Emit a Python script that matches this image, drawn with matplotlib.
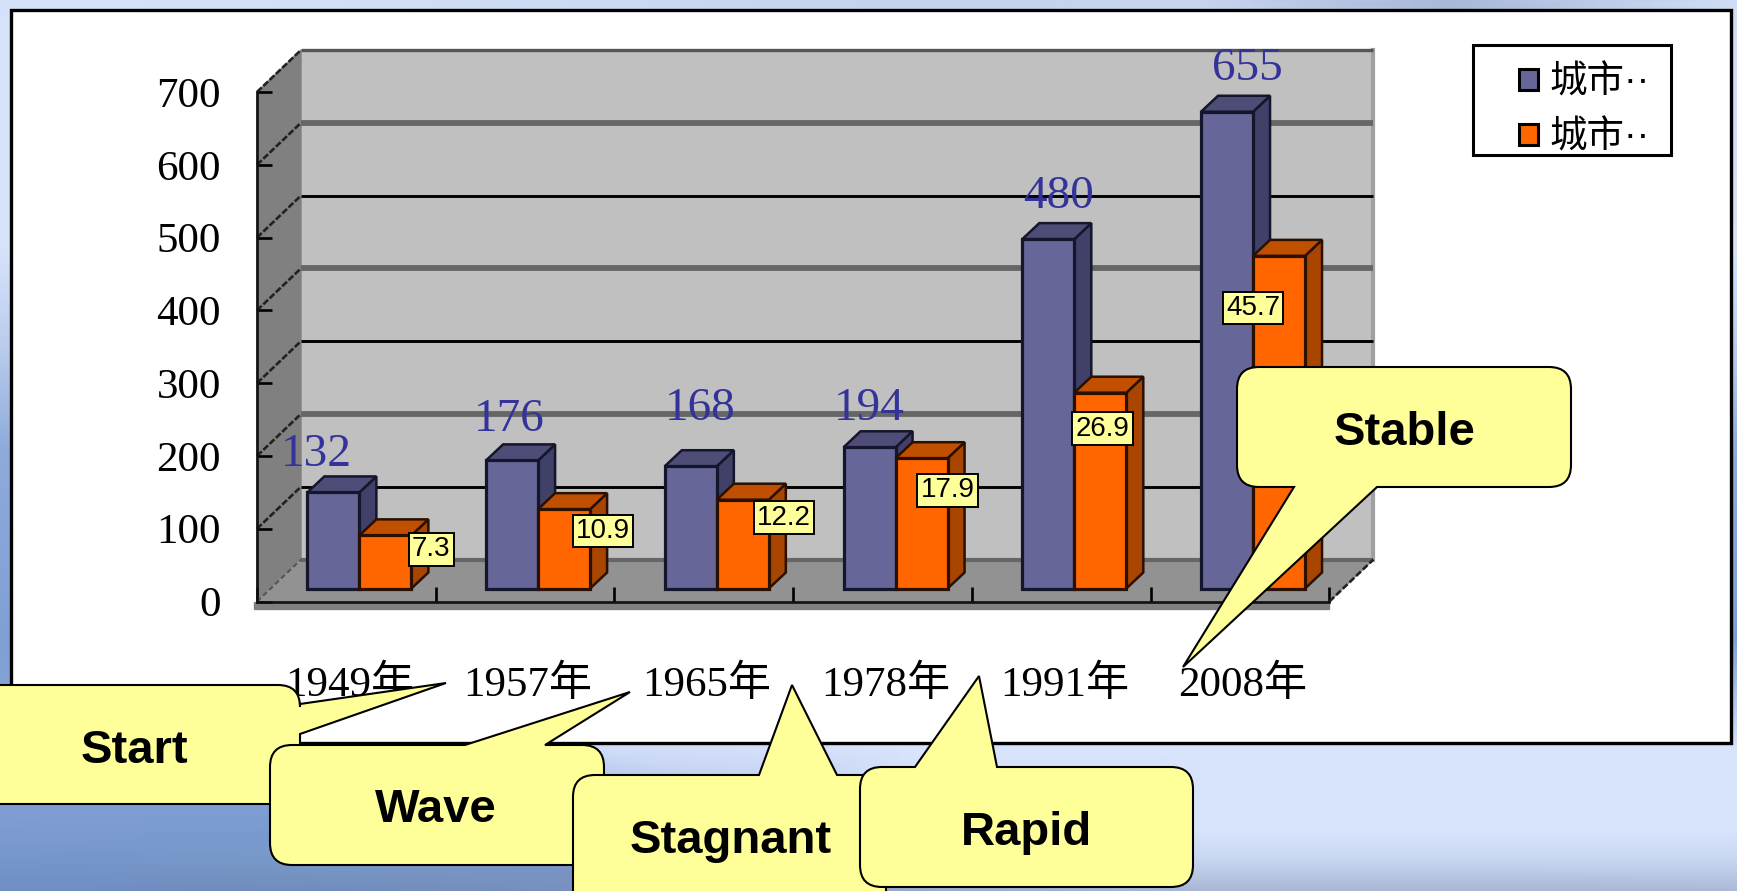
import numpy as np
import matplotlib
matplotlib.use("Agg")
import matplotlib.pyplot as plt
from matplotlib.colors import to_rgb
from matplotlib.patches import PathPatch, Patch
from matplotlib.path import Path

W, H = 1737, 891

# chart data
years = ["1949年", "1957年", "1965年", "1978年", "1991年", "2008年"]
city_count = [132, 176, 168, 194, 480, 655]
city_rate = [7.3, 10.9, 12.2, 17.9, 26.9, 45.7]
y_ticks = [0, 100, 200, 300, 400, 500, 600, 700]
legend_labels = ["城市··", "城市··"]

# background colours
bg_x = [0, 270, 600, 900, 1200, 1450, 1737]
bg_y = [0, 10, 250, 350, 450, 640, 750, 830, 860, 891]
bg_colors = [
    ["#d6e2fa", "#d4e0f8", "#cbd9f2", "#c4d2ec", "#c8d4ee", "#a8b8d8", "#d0ddf5"],
    ["#d6e2fa", "#d4e0f8", "#cbd9f2", "#c4d2ec", "#c8d4ee", "#a8b8d8", "#d0ddf5"],
    ["#d6e2fa"] * 7,
    ["#b8cbec"] * 7,
    ["#8eaadb"] * 7,
    ["#7f9fd4"] * 7,
    ["#88a6d8", "#8aa8dc", "#d0dcf8", "#d8e4fc", "#d8e4fc", "#d8e4fc", "#d8e4fc"],
    ["#7d9bd0", "#7a9ad0", "#8aa4d8", "#c8d6f0", "#d8e4fc", "#d8e4fc", "#d8e4fc"],
    ["#7595cc", "#7898c8", "#7a96c8", "#a8bce0", "#c8d6f0", "#c8d6f0", "#c8d6f0"],
    ["#6f8fc4", "#6f8cbc", "#7a90bc", "#98aac8", "#a8b6d4", "#a8b6d4", "#a8b8d6"],
]

fig = plt.figure(figsize=(W / 100, H / 100), dpi=100)

# background + white panel, in pixel coordinates
bg = fig.add_axes([0, 0, 1, 1], zorder=0)
bg.set_xlim(0, W)
bg.set_ylim(H, 0)
bg.axis("off")
rgb = np.array([[to_rgb(c) for c in row] for row in bg_colors])
bg.pcolormesh(bg_x, bg_y, rgb, shading="gouraud")
bg.add_patch(plt.Rectangle((11, 10), 1720, 733, fc="white", ec="black", lw=2.4))
# legend frame
bg.add_patch(plt.Rectangle((1473, 45), 198, 110, fc="white", ec="black", lw=2.2))

# chart axes, the front plane of the fake 3d box
left, right, base, top = 257, 1329.4, 601.5, 92
ax = fig.add_axes([left / W, 1 - base / H, (right - left) / W, (base - top) / H], zorder=1)
ax.patch.set_alpha(0)
ax.set_xlim(0, 6)
ax.set_ylim(0, 700)
px = 6 / (right - left)
py = 700 / (base - top)

wall_dx, wall_dy = 44 * px, 42 * py
bar_dx, bar_dy = 13 * px, 13 * py
bar_w = 52 * px
depth_x, depth_y = 17 * px, 16 * py

# walls and floor
ax.fill([wall_dx, 6 + wall_dx, 6 + wall_dx, wall_dx],
        [wall_dy, wall_dy, 700 + wall_dy, 700 + wall_dy], color="#c0c0c0", clip_on=False, zorder=1)
ax.fill([0, wall_dx, wall_dx, 0], [0, wall_dy, 700 + wall_dy, 700], color="#808080", clip_on=False, zorder=1)
ax.fill([0, wall_dx, 6 + wall_dx, 6], [0, wall_dy, wall_dy, 0], color="#929292", clip_on=False, zorder=1)
ax.fill([-3 * px, 6, 6, -3 * px], [-7 * py, -7 * py, 0, 0], color="#808080", clip_on=False, zorder=1)
ax.plot([6 + wall_dx] * 2, [wall_dy, 700 + wall_dy], color="#a0a0a0", lw=3, clip_on=False, zorder=1.5)

# gridlines on the back wall, black and grey in turn
for i, v in enumerate(y_ticks):
    if v == 0:
        color, lw = "#666666", 3
    elif v == 700:
        color, lw = "#555555", 2.4
    elif v % 200 == 100:
        color, lw = "black", 2.1
    else:
        color, lw = "#666666", 4.2
    ax.plot([wall_dx, 6 + wall_dx], [v + wall_dy, v + wall_dy], color=color, lw=lw,
            clip_on=False, zorder=1.6, solid_capstyle="butt")
    if v > 0:
        ax.plot([0, wall_dx], [v, v + wall_dy], color="#222222", lw=1.9, ls=(0, (2.5, 0.8)),
                clip_on=False, zorder=1.7)
ax.plot([0, wall_dx], [0, wall_dy], color="#555555", lw=1.5, ls=(0, (2.5, 1.5)), clip_on=False, zorder=1.7)
ax.plot([6, 6 + wall_dx], [0, wall_dy], color="#222222", lw=1.9, ls=(0, (2.5, 1)), clip_on=False, zorder=1.7)


def draw_bars(xs, heights, front, side, roof, edge, z):
    xs = np.asarray(xs)
    for x, h in zip(xs, heights):
        t = bar_dy + h
        x0, x1 = x, x + bar_w
        ax.fill([x1, x1 + depth_x, x1 + depth_x, x1],
                [bar_dy, bar_dy + depth_y, t + depth_y, t],
                fc=side, ec=edge, lw=1.8, zorder=z, clip_on=False)
        ax.fill([x0, x0 + depth_x, x1 + depth_x, x1],
                [t, t + depth_y, t + depth_y, t],
                fc=roof, ec=edge, lw=1.8, zorder=z, clip_on=False)
    ax.bar(xs, heights, bar_w, bottom=bar_dy, align="edge", color=front, edgecolor=edge,
           lw=2.3, zorder=z + 0.1, clip_on=False)


centers = np.arange(len(years)) + 0.5
# the rate series is plotted ten times its value in the original chart
rate_scaled = [v * 10 for v in city_rate]
blue_x = centers + bar_dx - bar_w
orange_x = centers + bar_dx
draw_bars(blue_x, city_count, "#666699", "#404068", "#4d4d78", "#15152b", 3)
draw_bars(orange_x, rate_scaled, "#ff6600", "#a84500", "#c05000", "#2b1000", 4)

# axis
for s in ["top", "right"]:
    ax.spines[s].set_visible(False)
for s in ["left", "bottom"]:
    ax.spines[s].set_linewidth(1.9)
    ax.spines[s].set_color("#111111")
    ax.spines[s].set_zorder(5)
serif = ["Liberation Serif", "Noto Sans CJK SC"]
ax.set_yticks(y_ticks)
ax.set_yticklabels([str(v) for v in y_ticks], family=serif, fontsize=31)
ax.tick_params(axis="y", direction="in", length=11, width=1.9, pad=26, zorder=5)
ax.set_xticks(range(7))
ax.set_xticklabels([])
ax.tick_params(axis="x", which="major", direction="in", length=11, width=1.9, zorder=5)
ax.set_xticks(centers + 3 * px, minor=True)
ax.set_xticklabels(years, minor=True, family=serif, fontsize=31)
ax.tick_params(axis="x", which="minor", length=0, pad=46)

# value labels, shifted off the bars by hand in pixels
count_off = [(-17, 38), (-3, 41), (9, 57), (0, 39), (10, 42), (20, 43)]
rate_off = [(46, -14), (39, -22), (41, -18), (26, -32), (2, -36), (-26, -52)]
for x, v, off in zip(blue_x + bar_w / 2, city_count, count_off):
    ax.annotate(str(v), (x, v + bar_dy), xytext=off, textcoords="offset pixels", ha="center", va="center",
                family=serif, fontsize=34, color="#333399", zorder=7, annotation_clip=False)
for x, v, s, off in zip(orange_x + bar_w / 2, rate_scaled, city_rate, rate_off):
    ax.annotate(str(s), (x, v + bar_dy), xytext=off, textcoords="offset pixels", ha="center", va="center",
                family="Liberation Sans", fontsize=20, color="black", zorder=7, annotation_clip=False,
                bbox=dict(boxstyle="square,pad=0.12", fc="#ffff99", ec="black", lw=1.4))

handles = [Patch(fc="#666699", ec="black", lw=2.2), Patch(fc="#ff6600", ec="black", lw=2.2)]
leg = ax.legend(handles, legend_labels, loc="upper left",
                bbox_to_anchor=(1519 / W, 1 - 65 / H), bbox_transform=fig.transFigure,
                prop={"family": ["Liberation Sans", "Noto Sans CJK SC"], "size": 27}, frameon=False,
                handlelength=0.5, handleheight=0.5, handletextpad=0.32,
                borderpad=0, borderaxespad=0, labelspacing=0.5)

# speech bubbles on top, in pixel coordinates
over = fig.add_axes([0, 0, 1, 1], zorder=2)
over.set_xlim(0, W)
over.set_ylim(H, 0)
over.axis("off")


def callout(x0, y0, x1, y1, edge, a, b, tip, label, tx, ty, r=22):
    v = [(x0 + r, y0)]
    c = [Path.MOVETO]
    if edge == "top":
        v += [(a, y0), tip, (b, y0)]
        c += [Path.LINETO] * 3
    v += [(x1 - r, y0), (x1, y0), (x1, y0 + r)]
    c += [Path.LINETO, Path.CURVE3, Path.CURVE3]
    if edge == "right":
        v += [(x1, a), tip, (x1, b)]
        c += [Path.LINETO] * 3
    v += [(x1, y1 - r), (x1, y1), (x1 - r, y1)]
    c += [Path.LINETO, Path.CURVE3, Path.CURVE3]
    if edge == "bottom":
        v += [(b, y1), tip, (a, y1)]
        c += [Path.LINETO] * 3
    v += [(x0 + r, y1), (x0, y1), (x0, y1 - r), (x0, y0 + r), (x0, y0), (x0 + r, y0), (x0 + r, y0)]
    c += [Path.LINETO, Path.CURVE3, Path.CURVE3, Path.LINETO, Path.CURVE3, Path.CURVE3, Path.CLOSEPOLY]
    over.add_patch(PathPatch(Path(v, c), fc="#ffff99", ec="black", lw=1.5, joinstyle="miter"))
    over.text(tx, ty, label, family="Liberation Sans", weight="bold", fontsize=34,
              ha="center", va="center", color="black")


callout(-30, 685, 300, 804, "right", 704, 734, (446, 683), "Start", 134, 751)
callout(270, 745, 604, 865, "top", 465, 545, (630, 692), "Wave", 436, 810)
callout(573, 775, 886, 915, "top", 759, 837, (792, 685), "Stagnant", 731, 841)
callout(860, 767, 1193, 887, "top", 915, 997, (979, 676), "Rapid", 1026, 833)
callout(1237, 367, 1571, 487, "bottom", 1294, 1377, (1183, 667), "Stable", 1405, 433)

fig.savefig("out.png", dpi=100)
